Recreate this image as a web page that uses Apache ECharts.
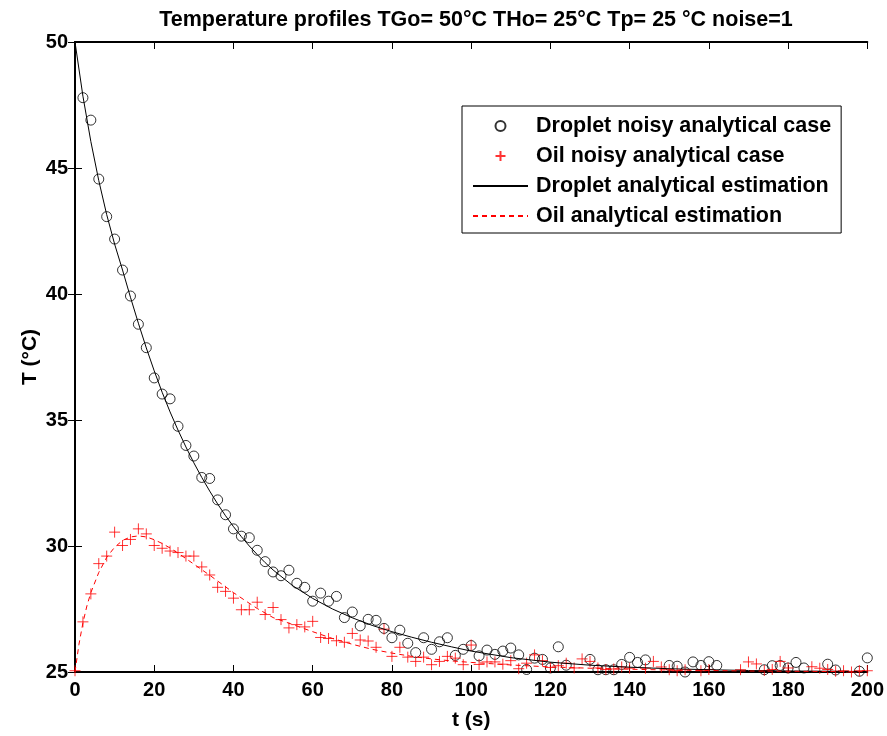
<!DOCTYPE html>
<html>
<head>
<meta charset="utf-8">
<script src="https://cdn.jsdelivr.net/npm/echarts@6/dist/echarts.min.js"></script>
<style>
html,body{margin:0;padding:0;background:#fff;}
#chart{width:887px;height:736px;}
</style>
</head>
<body>
<div id="chart"></div>
<script>
// sample times of the noisy measurements (s)
const times = [0,2,4,6,8,10,12,14,16,18,
  20,22,24,26,28,30,32,34,36,38,
  40,42,44,46,48,50,52,54,56,58,
  60,62,64,66,68,70,72,74,76,78,
  80,82,84,86,88,90,92,94,96,98,
  100,102,104,106,108,110,112,114,116,118,
  120,122,124,126,128,130,132,134,136,138,
  140,142,144,146,148,150,152,154,156,158,
  160,162,164,166,168,170,172,174,176,178,
  180,182,184,186,188,190,192,194,196,198,
  200];
// Droplet noisy analytical case (°C), null = not visible in the plot
const dropletNoisy = [null,47.79,46.9,44.56,43.07,42.18,40.95,39.92,38.8,37.87,
  36.67,36.03,35.84,34.75,33.99,33.57,32.72,32.68,31.83,31.24,
  30.68,30.39,30.33,29.83,29.38,28.97,28.82,29.04,28.52,28.36,
  27.81,28.13,27.81,28.0,27.16,27.38,26.83,27.09,27.05,26.73,
  26.36,26.66,26.14,25.77,26.36,25.9,26.2,26.36,25.66,25.9,
  26.05,25.64,25.87,25.7,25.83,25.95,25.68,25.1,25.55,25.5,
  25.16,26.0,25.27,null,null,25.5,25.09,25.09,25.09,25.3,
  25.58,25.38,25.48,null,null,25.26,25.23,25.0,25.4,25.26,
  25.41,25.26,null,null,null,null,null,25.09,25.25,25.26,
  25.16,25.38,25.16,null,null,25.31,25.08,null,null,25.03,
  25.56];
// Oil noisy analytical case (°C)
const oilNoisy = [25.05,26.99,28.1,29.3,29.6,30.55,30.02,30.26,30.68,30.48,
  30.02,29.91,29.8,29.74,29.6,29.6,29.17,28.85,28.36,28.2,
  27.93,27.47,27.47,27.77,27.28,27.56,27.08,26.75,26.88,26.79,
  27.01,26.37,26.33,26.24,26.18,26.53,26.27,26.23,25.98,26.7,
  25.62,25.98,25.59,25.42,25.59,25.29,25.42,25.62,25.55,25.29,
  26.07,25.3,25.4,25.4,25.31,25.45,25.13,25.35,25.68,25.45,
  25.18,25.25,25.35,25.16,25.52,25.42,25.16,25.1,25.12,25.2,
  25.15,null,25.15,25.42,25.2,25.09,25.05,25.09,null,25.05,
  25.1,null,null,null,25.09,25.4,25.32,25.06,25.1,25.42,
  25.16,null,null,25.21,25.15,25.1,25.03,25.05,25.0,25.05,
  25.05];
// Droplet analytical estimation
const dropletEstT = [0,2,4,6,8,10,12,14,16,18,20,22,24,26,28,30,32,34,36,38,40,42,44,46,48,50,55,60,65,70,75,80,85,90,95,100,110,120,130,140,150,160,170,180,190,200];
const dropletEstV = [50,47.85,46.05,44.5,43.15,41.98,40.95,39.87,38.84,37.86,36.95,36.1,35.32,34.6,33.93,33.3,32.72,32.18,31.67,31.2,30.77,30.37,30.0,29.66,29.34,29.05,28.42,27.92,27.5,27.15,26.85,26.6,26.38,26.18,26.0,25.83,25.57,25.39,25.27,25.19,25.13,25.09,25.06,25.04,25.03,25.02];
// Oil analytical estimation
const oilEstT = [0,1,2,3,4,6,8,10,12,14,16,18,20,22,24,26,28,30,32,34,36,38,40,43,46,50,55,60,65,70,75,80,85,90,95,100,110,120,130,140,150,160,170,180,190,200];
const oilEstV = [25,26.1,26.95,27.62,28.15,28.95,29.55,29.95,30.22,30.36,30.4,30.36,30.25,30.1,29.92,29.72,29.5,29.28,29.06,28.84,28.61,28.38,28.15,27.83,27.52,27.16,26.88,26.6,26.33,26.1,25.9,25.75,25.62,25.52,25.44,25.38,25.28,25.2,25.15,25.11,25.08,25.06,25.04,25.03,25.02,25.01];
const xTicks = {min: 0, max: 200, interval: 20};
const yTicks = {min: 25, max: 50, interval: 5};

const seriesNames = ['Droplet noisy analytical case','Oil noisy analytical case','Droplet analytical estimation','Oil analytical estimation'];
const titleText = 'Temperature profiles TGo= 50°C THo= 25°C Tp= 25 °C noise=1';

function pairs(xs, ys){
  const out = [];
  for (let i = 0; i < xs.length; i++) if (ys[i] !== null) out.push([xs[i], ys[i]]);
  return out;
}

const FONT = '"Liberation Sans", Arial, Helvetica, sans-serif';
const chart = echarts.init(document.getElementById('chart'));
const axisCommon = {
  axisLine: {show: true, lineStyle: {color: '#000', width: 2}},
  axisTick: {show: true, inside: true, length: 7, lineStyle: {color: '#000', width: 1}},
  splitLine: {show: false}
};
const plusPath = 'path://M0,5 L10,5 M5,0 L5,10';

chart.setOption({
  animation: false,
  backgroundColor: '#fff',
  textStyle: {fontFamily: FONT},
  title: {
    text: titleText,
    left: 471, top: 4, textAlign: 'center',
    textStyle: {fontFamily: FONT, fontWeight: 'bold', fontSize: 21.5, color: '#000'}
  },
  grid: {left: 75, top: 42, right: 19, bottom: 57, containLabel: false},
  legend: {
    orient: 'vertical',
    left: 462, top: 106,
    padding: [9, 10, 6, 10],
    itemWidth: 55, itemHeight: 10, itemGap: 8,
    borderColor: '#000', borderWidth: 1, backgroundColor: '#fff',
    data: [
      {name: seriesNames[0]},
      {name: seriesNames[1]},
      {name: seriesNames[2], itemStyle: {opacity: 0}},
      {name: seriesNames[3], itemStyle: {opacity: 0}}
    ],
    textStyle: {fontFamily: FONT, fontWeight: 'bold', fontSize: 21.5, color: '#000', lineHeight: 22, padding: [0,0,0,3]}
  },
  xAxis: [
    Object.assign({type: 'value', position: 'bottom', min: xTicks.min, max: xTicks.max, interval: xTicks.interval,
      name: 't (s)', nameLocation: 'middle', nameGap: 38, nameMoveOverlap: false,
      nameTextStyle: {fontFamily: FONT, fontWeight: 'bold', fontSize: 21, color: '#000'},
      axisLabel: {fontFamily: FONT, fontWeight: 'bold', fontSize: 20, color: '#000', margin: 8, showMinLabel: true, showMaxLabel: true}
    }, axisCommon),
    Object.assign({type: 'value', position: 'top', min: xTicks.min, max: xTicks.max, interval: xTicks.interval,
      axisLabel: {show: false}}, axisCommon)
  ],
  yAxis: [
    Object.assign({type: 'value', position: 'left', min: yTicks.min, max: yTicks.max, interval: yTicks.interval,
      name: 'T (°C)', nameLocation: 'middle', nameGap: 34, nameRotate: 90, nameMoveOverlap: false,
      nameTextStyle: {fontFamily: FONT, fontWeight: 'bold', fontSize: 21, color: '#000'},
      axisLabel: {fontFamily: FONT, fontWeight: 'bold', fontSize: 20, color: '#000', margin: 7, showMinLabel: true, showMaxLabel: true}
    }, axisCommon),
    Object.assign({type: 'value', position: 'right', min: yTicks.min, max: yTicks.max, interval: yTicks.interval,
      axisLabel: {show: false}}, axisCommon)
  ],
  series: [
    {
      name: seriesNames[0], type: 'scatter', xAxisIndex: 0, yAxisIndex: 0,
      data: pairs(times, dropletNoisy),
      symbol: 'circle', symbolSize: 10, clip: true,
      itemStyle: {color: 'rgba(0,0,0,0)', borderColor: '#000', borderWidth: 1}
    },
    {
      name: seriesNames[1], type: 'scatter', xAxisIndex: 0, yAxisIndex: 0,
      data: pairs(times, oilNoisy),
      symbol: plusPath, symbolSize: 11, clip: true,
      itemStyle: {color: 'rgba(0,0,0,0)', borderColor: '#ff0000', borderWidth: 1}
    },
    {
      name: seriesNames[2], type: 'line', xAxisIndex: 0, yAxisIndex: 0,
      data: pairs(dropletEstT, dropletEstV),
      symbol: 'none', smooth: false,
      lineStyle: {color: '#000', width: 1, type: 'solid'},
      itemStyle: {color: '#000'}
    },
    {
      name: seriesNames[3], type: 'line', xAxisIndex: 0, yAxisIndex: 0,
      data: pairs(oilEstT, oilEstV),
      symbol: 'none', smooth: false,
      lineStyle: {color: '#ff0000', width: 1, type: [5, 4]},
      itemStyle: {color: '#ff0000'}
    }
  ]
});
</script>
</body>
</html>
